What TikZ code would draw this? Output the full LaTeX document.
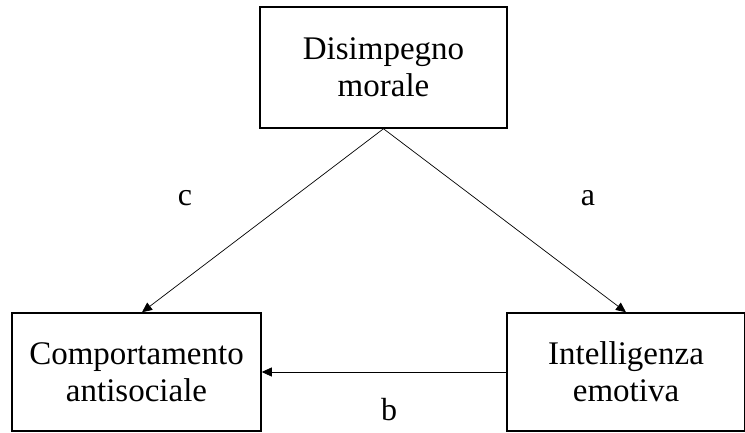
\documentclass[tikz,border=0pt]{standalone}
\usepackage{fontspec}
\setmainfont{Liberation Serif}
\usetikzlibrary{arrows.meta,calc}
\begin{document}
\begin{tikzpicture}[x=1pt,y=1pt,
  box/.style={draw,line width=1.5pt,align=center,inner sep=0pt,
    font=\fontsize{33}{37}\selectfont},
  conn/.style={line width=0.7pt,-{Triangle[length=10pt,width=9pt]}},
  lab/.style={font=\fontsize{32}{36}\selectfont}]
\useasboundingbox (0,0) rectangle (745,432);
\node[box,minimum width=247pt,minimum height=121pt] (T) at (383.5,364.5) {Disimpegno\\morale};
\node[box,minimum width=249pt,minimum height=118pt] (L) at (136.5,60) {Comportamento\\antisociale};
\node[box,minimum width=238pt,minimum height=118pt] (R) at (626,60) {Intelligenza\\emotiva};
\coordinate (Lt) at ($(L.north)+(5.5,0)$);
\draw[conn] (T.south) -- (Lt);
\draw[conn] (T.south) -- (R.north);
\draw[conn] (R.west) -- (L.east);
\node[lab] (c) at (185,234) {c};
\node[lab] (a) at (588,234) {a};
\node[lab] (b) at (389,22) {b};
\end{tikzpicture}
\end{document}
